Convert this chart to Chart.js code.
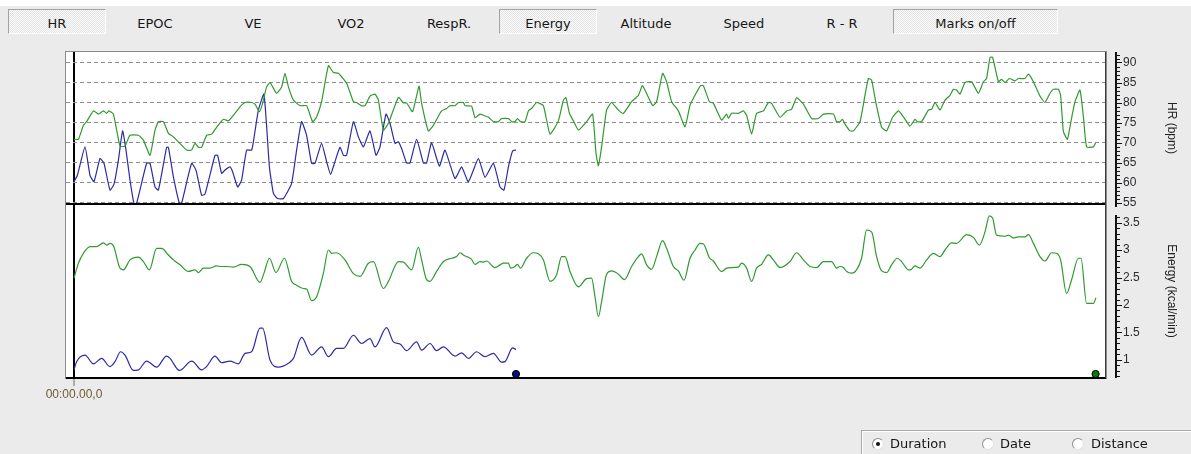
<!DOCTYPE html>
<html>
<head>
<meta charset="utf-8">
<script src="https://cdn.jsdelivr.net/npm/chart.js@4.4.1/dist/chart.umd.min.js"></script>
<style>
html,body{margin:0;padding:0}
body{width:1191px;height:454px;overflow:hidden;position:relative;background:#ebebeb;font-family:'DejaVu Sans',sans-serif}
#strip{position:absolute;left:0;top:0;width:1191px;height:6px;background:#fff}
.tab{position:absolute;top:9px;height:25px;width:98px;box-sizing:border-box;border:1px solid transparent;font-size:13px;line-height:16px;padding-top:6px;text-align:center;color:#161616;white-space:nowrap}
.tab.on{border-color:#a3a3a3 #fdfdfd #fdfdfd #a3a3a3;background:repeating-conic-gradient(#fbfbfb 0 25%,#e4e4e4 0 50%) 0 0/2px 2px}
#chart{position:absolute;left:0;top:0}
.group{position:absolute;left:861px;top:430px;width:340px;height:40px;border-top:1px solid #a9a9a9;border-left:1px solid #a9a9a9;box-shadow:inset 1px 1px 0 #fff}
.radio{position:absolute;top:438px;width:12px;height:12px;box-sizing:border-box;border-radius:50%;border:1px solid;border-color:#8d8d8d #e2e2e2 #e2e2e2 #8d8d8d;background:#fff}
.radio.on::after{content:'';position:absolute;left:3px;top:3px;width:4px;height:4px;border-radius:50%;background:#111}
.rlabel{position:absolute;top:436px;font-size:13px;line-height:16px;color:#161616}
</style>
</head>
<body>
<div id="strip"></div>
<div class="tab on" style="left:8px">HR</div>
<div class="tab" style="left:106px">EPOC</div>
<div class="tab" style="left:204px">VE</div>
<div class="tab" style="left:302px">VO2</div>
<div class="tab" style="left:400px">RespR.</div>
<div class="tab on" style="left:499px">Energy</div>
<div class="tab" style="left:597px">Altitude</div>
<div class="tab" style="left:695px">Speed</div>
<div class="tab" style="left:793px">R - R</div>
<div class="tab on" style="left:893px;width:165px">Marks on/off</div>

<canvas id="chart" width="1191" height="454"></canvas>

<div class="group"></div>
<div class="radio on" style="left:872px"></div><div class="rlabel" style="left:890px">Duration</div>
<div class="radio" style="left:982px"></div><div class="rlabel" style="left:1000px">Date</div>
<div class="radio" style="left:1072px"></div><div class="rlabel" style="left:1091px">Distance</div>

<script>
// Exercise samples: [elapsed minutes, value]
const hrGreen = [[0,70.8],[0.22,70.8],[0.47,74.3],[0.63,75.2],[0.97,77.9],[1.22,77.1],[1.47,77.9],[1.63,77.3],[1.75,77.9],[1.97,77.1],[2.3,69.1],[2.55,69.1],[2.8,71.8],[3.22,71.8],[3.47,70.6],[3.8,66.8],[4.05,73.1],[4.22,75.2],[4.47,75.2],[4.72,72.3],[4.97,71.4],[5.63,68.1],[5.88,68.1],[6.05,69.8],[6.22,68.8],[6.38,68.8],[6.63,71.8],[6.88,72.1],[7.13,73.8],[7.47,75.8],[7.72,75.4],[7.97,76.8],[8.3,78.9],[8.55,80],[8.88,80],[9.05,79.6],[9.27,77.7],[9.43,79.8],[9.63,83.9],[9.8,85],[10.13,82.3],[10.38,83.9],[10.55,87.3],[10.72,83.9],[10.97,80.6],[11.3,79.2],[11.63,79.2],[11.93,75.2],[12.13,76.4],[12.38,80.2],[12.72,89.2],[12.97,87.5],[13.22,87.3],[13.63,84.8],[13.97,80.2],[14.13,80],[14.38,79.2],[14.55,79.2],[14.8,81.6],[15.05,82.1],[15.22,80.6],[15.47,73.1],[15.72,74.8],[16.22,81.3],[16.47,79.9],[16.63,79.9],[16.93,77.7],[17.25,84.1],[17.38,79.8],[17.72,72.9],[17.97,74.3],[18.3,77.3],[18.38,77.9],[18.63,78.5],[18.8,79.2],[19.05,79.2],[19.22,80],[19.47,80],[19.55,79.2],[19.88,79.1],[20.05,76.2],[20.3,77.1],[20.47,76.8],[20.72,76.3],[20.97,75.2],[21.22,75.2],[21.38,76],[21.72,76],[21.88,75.2],[22.05,75.2],[22.17,76],[22.33,75.2],[22.55,75.2],[22.72,77.9],[22.88,78.5],[23.13,80],[23.47,79.2],[23.8,72.1],[24.22,75.4],[24.47,80.6],[24.6,81.2],[24.77,77.3],[24.97,75.4],[25.22,73.1],[25.63,75.2],[25.93,77.1],[26.1,67.3],[26.22,64.2],[26.38,68.9],[26.63,78.1],[26.88,80],[27.22,78.1],[27.47,77.3],[27.88,80.2],[28.22,81.8],[28.43,84.2],[28.93,79.2],[29.13,80.2],[29.43,87.3],[29.63,85.2],[29.88,80.2],[30.22,77.9],[30.55,73.9],[30.8,79.3],[31.05,81.8],[31.33,84.2],[31.47,84.2],[31.77,80.2],[31.97,79.8],[32.38,75.6],[32.63,77.1],[32.72,76],[32.88,77.3],[33.22,77.3],[33.47,77.9],[33.63,76.8],[33.88,72.1],[34.13,77.3],[34.47,77.9],[34.72,80],[34.88,79.8],[35.3,76.3],[35.63,77.9],[35.88,78.3],[36.13,81.2],[36.47,79.6],[36.88,76],[37.22,76],[37.47,77.1],[37.97,77.1],[38.13,75.2],[38.3,75.2],[38.42,75.8],[38.55,74.6],[38.8,72.9],[38.97,72.9],[39.3,75.2],[39.55,81.8],[39.72,86],[39.88,85.6],[40.1,79.8],[40.38,73.8],[40.63,72.9],[40.93,76.3],[41.22,77.9],[41.47,76.4],[41.8,74.1],[42.05,75.8],[42.17,75.2],[42.38,75.2],[42.72,78.1],[42.88,78.3],[43.05,80],[43.3,78.1],[43.55,80.6],[43.8,81.8],[43.97,83.3],[44.13,83.1],[44.3,82.1],[44.55,85],[44.88,85.2],[45.22,82.3],[45.47,85.2],[45.63,86],[45.8,91.3],[45.93,91.3],[46.22,85.2],[46.38,85.8],[46.55,85],[46.77,86],[47.05,85.4],[47.22,86],[47.55,86],[47.72,87.1],[47.97,85.2],[48.3,81.6],[48.55,80],[48.8,82.3],[48.97,83.3],[49.22,83.3],[49.33,81.8],[49.47,72.7],[49.67,70.8],[49.83,74.8],[50.05,80.2],[50.3,83.1],[50.47,76.4],[50.63,68.9],[50.97,68.9],[51.08,69.9]];

const hrBlue = [[0,60.2],[0.17,61.8],[0.55,68.9],[0.8,61.8],[1.0,60.2],[1.3,66],[1.5,64.8],[1.8,58.1],[2.0,59.6],[2.22,65.6],[2.43,72.9],[2.6,68.1],[2.8,60.6],[3.0,54.8],[3.13,54.8],[3.63,64.8],[3.8,64.8],[4.05,58.9],[4.22,58.1],[4.63,68.8],[4.72,68.8],[4.97,61.4],[5.27,54.8],[5.38,54.8],[5.88,64.8],[6.1,63.1],[6.38,56.8],[6.55,57.1],[7.05,66.8],[7.18,66.8],[7.38,62.3],[7.55,63.1],[7.8,63.9],[7.93,62.7],[8.18,58.9],[8.38,60.6],[8.63,68.1],[8.88,68.1],[8.97,70.2],[9.22,78.1],[9.5,82.1],[9.77,63.9],[9.97,57.3],[10.17,56],[10.47,56],[10.88,59.8],[11.13,68.1],[11.38,75.2],[11.63,71.8],[11.88,64.8],[12.05,64.8],[12.38,69.8],[12.63,65.2],[12.83,62],[13.02,64.8],[13.3,68.8],[13.47,66.8],[13.63,66.8],[13.97,75.2],[14.22,71.4],[14.47,68.9],[14.8,72.9],[15.1,66.8],[15.3,68.9],[15.6,77.1],[15.8,74.8],[16.05,69.8],[16.22,70.2],[16.38,68.5],[16.63,64.9],[16.8,64.9],[17.13,70.8],[17.47,64.9],[17.63,64.9],[17.88,69.9],[18.27,64.1],[18.55,68.1],[19.05,61],[19.38,63.9],[19.72,60.2],[20.22,66],[20.55,61.3],[20.97,64.8],[21.3,58.9],[21.5,58.1],[21.72,63.9],[21.93,67.9],[22.1,68.1]];

const energyGreen = [[0,2.49],[0.22,2.76],[0.47,2.94],[0.8,3.06],[1.13,3.06],[1.47,3.13],[1.63,3.09],[1.8,3.12],[1.97,3.08],[2.3,2.67],[2.47,2.64],[2.8,2.82],[3.22,2.87],[3.47,2.79],[3.77,2.64],[4.13,3.03],[4.38,3.03],[4.72,2.91],[4.97,2.82],[5.3,2.73],[5.72,2.61],[6.05,2.64],[6.22,2.59],[6.47,2.67],[6.8,2.67],[7.13,2.71],[7.38,2.70],[7.63,2.70],[7.97,2.69],[8.38,2.74],[8.8,2.70],[9.3,2.41],[9.5,2.58],[9.77,2.85],[10.1,2.59],[10.52,2.85],[10.88,2.43],[11.13,2.36],[11.47,2.30],[11.63,2.29],[11.88,2.08],[12.13,2.15],[12.47,2.58],[12.72,3.0],[12.88,2.94],[13.13,2.95],[13.55,2.82],[13.97,2.57],[14.3,2.52],[14.72,2.76],[14.97,2.79],[15.47,2.30],[15.72,2.43],[16.22,2.79],[16.47,2.78],[16.88,2.64],[17.22,3.05],[17.38,2.82],[17.63,2.46],[17.8,2.43],[18.13,2.61],[18.47,2.79],[18.88,2.85],[19.13,2.88],[19.3,2.95],[19.47,2.91],[19.63,2.88],[19.88,2.83],[20.05,2.74],[20.3,2.79],[20.47,2.78],[20.63,2.80],[21.05,2.68],[21.3,2.73],[21.47,2.76],[21.72,2.76],[21.83,2.67],[22.05,2.70],[22.17,2.74],[22.33,2.67],[22.63,2.85],[22.97,2.95],[23.22,2.93],[23.47,2.82],[23.8,2.43],[24.13,2.55],[24.38,2.88],[24.55,2.88],[24.8,2.61],[25.22,2.33],[25.63,2.48],[25.88,2.49],[26.05,2.15],[26.22,1.79],[26.38,2.06],[26.63,2.56],[26.88,2.62],[27.22,2.56],[27.52,2.46],[27.88,2.70],[28.22,2.88],[28.38,2.93],[28.63,2.73],[28.88,2.65],[29.13,2.88],[29.43,3.17],[29.63,3.03],[29.97,2.70],[30.22,2.62],[30.5,2.45],[30.8,2.85],[31.05,3.0],[31.3,3.12],[31.47,3.11],[31.77,2.86],[31.97,2.80],[32.38,2.61],[32.63,2.67],[32.8,2.68],[33.22,2.69],[33.38,2.76],[33.63,2.67],[33.88,2.43],[34.13,2.67],[34.38,2.74],[34.72,2.91],[34.97,2.82],[35.3,2.68],[35.8,2.79],[36.13,2.95],[36.47,2.82],[36.8,2.70],[37.13,2.68],[37.47,2.79],[37.88,2.79],[38.13,2.67],[38.3,2.70],[38.47,2.68],[38.63,2.61],[38.88,2.58],[39.13,2.64],[39.38,2.85],[39.63,3.36],[39.88,3.33],[40.13,2.88],[40.38,2.62],[40.63,2.59],[40.88,2.73],[41.17,2.85],[41.38,2.79],[41.72,2.64],[41.83,2.64],[42.05,2.71],[42.3,2.67],[42.63,2.82],[42.97,2.94],[43.3,2.88],[43.55,3.0],[43.88,3.13],[44.13,3.12],[44.63,3.28],[44.97,3.23],[45.27,3.09],[45.55,3.33],[45.77,3.62],[45.93,3.58],[46.13,3.27],[46.55,3.25],[46.72,3.27],[46.97,3.22],[47.22,3.24],[47.55,3.24],[47.72,3.28],[47.97,3.12],[48.3,2.88],[48.55,2.80],[48.88,2.95],[49.13,2.94],[49.33,2.82],[49.63,2.21],[49.88,2.46],[50.22,2.85],[50.35,2.85],[50.63,2.03],[50.97,2.03],[51.1,2.13]];

const energyBlue = [[0,0.82],[0.13,0.97],[0.55,1.09],[0.97,0.93],[1.38,1.03],[1.8,0.88],[2.05,0.97],[2.33,1.15],[2.55,1.09],[2.97,0.81],[3.22,0.82],[3.63,0.98],[3.8,0.95],[4.13,0.87],[4.63,1.07],[4.8,1.03],[5.27,0.81],[5.88,0.98],[5.97,0.97],[6.38,0.82],[6.63,0.88],[7.05,1.07],[7.38,0.95],[7.8,0.98],[8.22,0.93],[8.55,1.12],[8.88,1.15],[9.3,1.58],[9.43,1.58],[9.8,1.0],[10.22,0.87],[10.72,0.94],[10.97,1.03],[11.38,1.41],[11.88,1.09],[12.38,1.24],[12.72,1.06],[13.13,1.21],[13.47,1.21],[13.97,1.45],[14.38,1.30],[14.8,1.39],[15.05,1.24],[15.63,1.59],[15.97,1.33],[16.3,1.29],[16.63,1.17],[17.13,1.33],[17.38,1.18],[17.8,1.30],[18.13,1.17],[18.47,1.24],[19.05,1.07],[19.38,1.13],[19.72,1.03],[20.13,1.15],[20.55,1.06],[20.97,1.12],[21.38,0.96],[21.55,0.97],[21.93,1.22],[22.1,1.19]];

// Axis ticks
const hrTicks = [55, 60, 65, 70, 75, 80, 85, 90];
const energyTicks = [1, 1.5, 2, 2.5, 3, 3.5];
const timeTicks = [0];
const hrMinorStep = 1;
const energyMinorStep = 0.1;

const GREEN = '#2f9a2f';
const BLUE = '#2b2ba6';

const toPoints = s => s.map(([t, v]) => ({x: t, y: v}));

// elapsed minutes -> hh:mm.ss,t
function fmtDuration(min) {
  const tenths = Math.round(min * 600);
  const pad = n => String(n).padStart(2, '0');
  const h = Math.floor(tenths / 36000), m = Math.floor(tenths / 600) % 60, s = Math.floor(tenths / 10) % 60;
  return pad(h) + ':' + pad(m) + '.' + pad(s) + ',' + (tenths % 10);
}

Chart.defaults.font.family = "'Liberation Sans', Arial, sans-serif";
Chart.defaults.font.size = 12;
Chart.defaults.color = '#2a2a30';

// Plot frame, panel separators, the right-hand axis rulers and end-of-exercise markers
const framePlugin = {
  id: 'frame',
  beforeDraw(chart) {
    const {ctx, chartArea: a} = chart;
    ctx.save();
    ctx.fillStyle = '#ffffff';
    ctx.fillRect(a.left, a.top, a.right - a.left, a.bottom - a.top);
    ctx.strokeStyle = '#8a8a8a';
    ctx.lineWidth = 1;
    ctx.strokeRect(a.left - 0.5, a.top - 0.5, a.right - a.left + 1, a.bottom - a.top + 1);
    ctx.restore();
  },
  afterDatasetsDraw(chart) {
    const {ctx, chartArea: a, scales} = chart;
    const yH = scales.yHR, yE = scales.yE, xs = scales.x;
    ctx.save();
    ctx.fillStyle = '#000';
    ctx.fillRect(a.left, Math.round(yH.bottom) - 1, a.right - a.left, 2);
    ctx.fillRect(a.left, Math.round(a.bottom) - 1, a.right - a.left, 2);
    ctx.fillStyle = '#3a3a3a';
    ctx.fillRect(a.right - 1, a.top, 1, a.bottom - a.top);

    const axisX = Math.round(a.right + 10);
    ctx.fillStyle = '#111';
    const ruler = (scale, step, majors, yFrom, yTo) => {
      ctx.fillRect(axisX - 1, yFrom, 2, yTo - yFrom);
      const k0 = Math.ceil(scale.min / step - 1e-6), k1 = Math.floor(scale.max / step + 1e-6);
      for (let k = k0; k <= k1; k++) {
        const v = k * step;
        const y = Math.round(scale.getPixelForValue(v));
        if (y < yFrom || y > yTo) continue;
        const major = majors.some(m => Math.abs(m - v) < 1e-6);
        ctx.fillRect(axisX + 1, y, major ? 5 : 3, 1);
      }
    };
    ruler(yH, hrMinorStep, hrTicks, Math.round(yH.top), Math.round(yH.bottom) + 3);
    ruler(yE, energyMinorStep, energyTicks, Math.round(yE.top) + 11, Math.round(yE.bottom));

    [[hrBlue, '#0b0b80'], [hrGreen, '#0b7a0b']].forEach(([s, c]) => {
      const px = xs.getPixelForValue(s[s.length - 1][0]);
      ctx.beginPath();
      ctx.arc(px, a.bottom - 4, 3.6, 0, Math.PI * 2);
      ctx.fillStyle = c;
      ctx.fill();
      ctx.lineWidth = 1;
      ctx.strokeStyle = '#000';
      ctx.stroke();
    });
    ctx.restore();
  }
};

const lineSet = (series, color, axis, smooth) => ({
  data: toPoints(series),
  yAxisID: axis,
  borderColor: color,
  borderWidth: 1.2,
  pointRadius: 0,
  fill: false,
  tension: smooth ? 0.35 : 0.15,
  cubicInterpolationMode: smooth ? 'monotone' : 'default'
});

new Chart(document.getElementById('chart'), {
  type: 'line',
  data: {
    datasets: [
      lineSet(hrGreen, GREEN, 'yHR', false),
      lineSet(hrBlue, BLUE, 'yHR', false),
      lineSet(energyGreen, GREEN, 'yE', true),
      lineSet(energyBlue, BLUE, 'yE', true)
    ]
  },
  options: {
    responsive: false,
    animation: false,
    devicePixelRatio: 1,
    layout: {padding: {left: 66, top: 52, right: 0, bottom: 0}},
    plugins: {legend: {display: false}, tooltip: {enabled: false}},
    scales: {
      x: {
        type: 'linear',
        min: -0.4,
        max: 51.6,
        afterBuildTicks: s => { s.ticks = timeTicks.map(v => ({value: v})); },
        afterFit: s => { s.height = 76; },
        border: {display: false},
        grid: {drawOnChartArea: true, color: '#000', lineWidth: 2, tickColor: '#6a6a6a', tickWidth: 1, tickLength: 8},
        ticks: {padding: 1, color: '#6e5a34', maxRotation: 0, autoSkip: false, callback: v => fmtDuration(v)}
      },
      yHR: {
        type: 'linear',
        position: 'right',
        stack: 'panels',
        stackWeight: 152,
        min: 54.625,
        max: 92.625,
        afterBuildTicks: s => { s.ticks = hrTicks.map(v => ({value: v})); },
        afterFit: s => { s.width = 85; },
        border: {display: false, dash: [4, 3]},
        grid: {color: '#8e8e8e', lineWidth: 1, drawTicks: false},
        ticks: {padding: 17, autoSkip: false, callback: v => String(v)},
        title: {display: true, text: 'HR (bpm)', color: '#222', font: {size: 12}, padding: {top: 12.3, bottom: 0}}
      },
      yE: {
        type: 'linear',
        position: 'right',
        stack: 'panels',
        stackWeight: 174,
        min: 0.6727,
        max: 3.8364,
        afterBuildTicks: s => { s.ticks = energyTicks.map(v => ({value: v})); },
        afterFit: s => { s.width = 85; },
        border: {display: false},
        grid: {display: false, drawTicks: false},
        ticks: {padding: 17, autoSkip: false, callback: v => String(v)},
        title: {display: true, text: 'Energy (kcal/min)', color: '#222', font: {size: 12}, padding: {top: 12.3, bottom: 0}}
      }
    }
  },
  plugins: [framePlugin]
});
</script>
</body>
</html>
